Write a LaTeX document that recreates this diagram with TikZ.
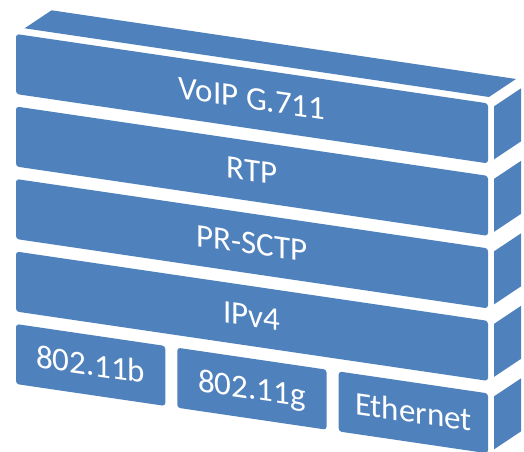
\documentclass[tikz,border=0pt]{standalone}
\usepackage{fontspec}
\setmainfont{Carlito}
\usetikzlibrary{calc}
\definecolor{layerblue}{HTML}{4F81BD}
\tikzset{
  layer/.style={fill=layerblue, text=white, rounded corners=3pt,
    inner sep=0pt, outer sep=0pt, anchor=north west,
    minimum height=60pt, text height=21pt, text depth=0pt,
    font=\fontsize{33}{36}\selectfont, transform shape},
}
\begin{document}
\begin{tikzpicture}[x=1pt,y=1pt]
\useasboundingbox (0,0) rectangle (524,451);
% front of the stack, slanted
\begin{scope}[cm={1,-0.147,0,1,(0pt,2.352pt)}]
\node[layer, minimum width=472pt] (voip) at (16,417) {VoIP G.711};
\node[layer, minimum width=472pt] (rtp) at (16,344.5) {RTP};
\node[layer, minimum width=472pt] (sctp) at (16,272) {PR-SCTP};
\node[layer, minimum width=472pt] (ipv4) at (16,199.5) {IPv4};
\node[layer, minimum width=149.3pt] (wlanb) at (16,127) {802.11b};
\node[layer, minimum width=149.3pt] (wlang) at (177.3,127) {802.11g};
\node[layer, minimum width=149.3pt] (eth) at (338.7,127) {Ethernet};
\end{scope}
% top of the stack
\fill[layerblue] ($(voip.north west)+(8.6,5.7)$) -- ($(voip.north east)+(1,6.4)$)
  -- ++(27,18) -- ($(voip.north west)+(35.6,23.7)$) -- cycle;
% right hand sides
\foreach \n in {voip,rtp,sctp,ipv4,eth}
  \fill[layerblue] ($(\n.north east)+(6,-3)$) -- ($(\n.south east)+(6,4)$)
    -- ++(27,18) -- ($(\n.north east)+(33,15)$) -- cycle;
\end{tikzpicture}
\end{document}
